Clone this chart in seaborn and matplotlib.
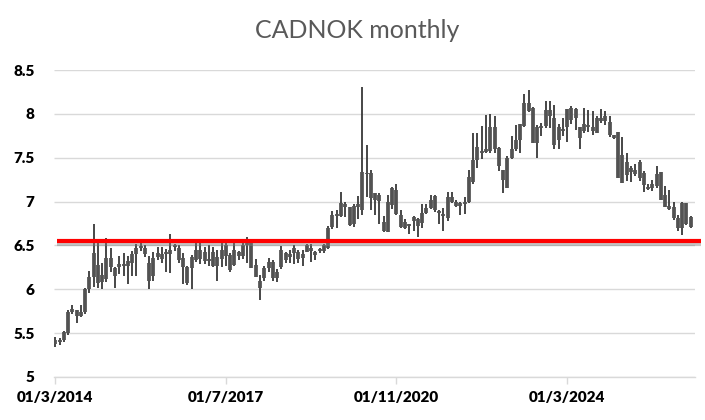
import numpy as np
import pandas as pd
import seaborn as sns
import matplotlib
matplotlib.use('Agg')
import matplotlib.pyplot as plt
import matplotlib.patheffects as pe

# monthly OHLC (index 0 = 01/3/2014)
open_ = [5.38, 5.40, 5.42, 5.50, 5.74, 5.76, 5.70, 5.74, 6.00, 6.14,
         6.28, 6.08, 6.12, 6.36, 6.24, 6.25, 6.29, 6.26, 6.30, 6.40,
         6.47, 6.47, 6.30, 6.15, 6.37, 6.40, 6.40, 6.40, 6.48, 6.47,
         6.36, 6.25, 6.24, 6.33, 6.45, 6.43, 6.34, 6.43, 6.27, 6.34,
         6.50, 6.39, 6.28, 6.42, 6.38, 6.51, 6.56, 6.28, 6.10, 6.13,
         6.24, 6.31, 6.13, 6.25, 6.41, 6.37, 6.41, 6.43, 6.36, 6.42,
         6.47, 6.43, 6.44, 6.44, 6.47, 6.71, 6.86, 6.84, 6.97, 6.94,
         6.75, 6.94, 6.90, 7.33, 7.33, 7.10, 7.08, 6.77, 6.65, 6.96,
         7.13, 6.85, 6.77, 6.74, 6.78, 6.80, 6.76, 6.87, 6.93, 7.06,
         6.87, 6.86, 6.81, 7.05, 7.00, 6.95, 6.97, 7.00, 7.22, 7.47,
         7.58, 7.57, 7.58, 7.85, 7.61, 7.36, 7.15, 7.50, 7.60, 7.70,
         7.86, 8.12, 8.07, 7.67, 7.84, 7.86, 8.04, 7.95, 7.70, 7.83,
         7.85, 8.07, 7.95, 7.85, 7.80, 7.85, 7.85, 7.95, 7.92, 7.92,
         7.91, 7.76, 7.79, 7.53, 7.30, 7.34, 7.36, 7.45, 7.33, 7.17,
         7.15, 7.18, 7.34, 7.08, 6.95, 6.94, 6.81, 6.70, 6.98, 6.82]
close = [5.42, 5.42, 5.51, 5.74, 5.77, 5.70, 5.74, 6.00, 6.14, 6.41,
         6.07, 6.16, 6.36, 6.25, 6.15, 6.29, 6.27, 6.32, 6.40, 6.47,
         6.49, 6.40, 6.10, 6.36, 6.41, 6.35, 6.42, 6.45, 6.50, 6.33,
         6.25, 6.07, 6.37, 6.45, 6.35, 6.32, 6.32, 6.26, 6.37, 6.45,
         6.38, 6.22, 6.45, 6.38, 6.50, 6.56, 6.24, 6.14, 6.02, 6.24,
         6.31, 6.13, 6.20, 6.45, 6.33, 6.40, 6.47, 6.34, 6.40, 6.50,
         6.44, 6.39, 6.46, 6.51, 6.70, 6.85, 6.84, 6.98, 6.94, 6.73,
         6.95, 6.97, 7.34, 7.31, 7.04, 7.02, 7.01, 6.66, 7.00, 7.15,
         6.86, 6.71, 6.70, 6.72, 6.82, 6.72, 6.87, 6.93, 7.02, 6.90,
         6.89, 6.84, 7.05, 7.00, 6.95, 6.98, 7.00, 7.28, 7.47, 7.62,
         7.55, 7.60, 7.85, 7.60, 7.40, 7.25, 7.50, 7.60, 7.70, 7.88,
         8.12, 8.03, 7.67, 7.85, 7.86, 8.04, 7.98, 7.65, 7.85, 7.80,
         8.05, 7.93, 8.06, 7.72, 7.88, 7.87, 7.80, 7.78, 7.95, 7.97,
         7.76, 7.73, 7.27, 7.21, 7.45, 7.38, 7.32, 7.27, 7.19, 7.14,
         7.20, 7.32, 7.02, 6.94, 6.92, 6.81, 6.70, 6.98, 6.74, 6.71]
high = [5.46, 5.45, 5.52, 5.76, 5.82, 5.76, 5.82, 6.02, 6.21, 6.74,
        6.57, 6.30, 6.58, 6.47, 6.25, 6.38, 6.41, 6.38, 6.44, 6.52,
        6.55, 6.50, 6.38, 6.42, 6.48, 6.48, 6.46, 6.63, 6.52, 6.51,
        6.41, 6.27, 6.39, 6.53, 6.53, 6.48, 6.51, 6.48, 6.45, 6.53,
        6.53, 6.41, 6.53, 6.44, 6.55, 6.60, 6.56, 6.35, 6.16, 6.27,
        6.36, 6.33, 6.23, 6.49, 6.43, 6.45, 6.50, 6.45, 6.45, 6.52,
        6.52, 6.44, 6.47, 6.52, 6.72, 6.89, 6.90, 7.11, 6.99, 6.94,
        6.97, 7.06, 8.31, 7.64, 7.36, 7.10, 7.10, 6.83, 7.08, 7.17,
        7.20, 6.90, 6.80, 6.75, 6.84, 6.81, 6.97, 6.97, 7.07, 7.07,
        6.90, 6.93, 7.11, 7.11, 7.02, 7.00, 7.05, 7.36, 7.78, 7.78,
        7.86, 7.99, 8.00, 7.98, 7.62, 7.36, 7.52, 7.75, 7.87, 7.88,
        8.23, 8.27, 8.08, 7.87, 7.90, 8.15, 8.15, 8.10, 7.88, 7.95,
        8.05, 8.09, 8.07, 7.85, 8.07, 8.04, 8.03, 7.97, 8.05, 8.03,
        7.97, 7.76, 7.79, 7.74, 7.55, 7.40, 7.43, 7.47, 7.35, 7.20,
        7.25, 7.40, 7.34, 7.18, 7.13, 7.00, 6.85, 7.00, 6.98, 6.83]
low = [5.34, 5.36, 5.40, 5.48, 5.72, 5.62, 5.68, 5.72, 5.96, 6.03,
       6.02, 6.00, 6.08, 6.20, 6.02, 6.17, 6.15, 6.06, 6.15, 6.15,
       6.44, 6.37, 6.00, 6.10, 6.33, 6.30, 6.20, 6.19, 6.44, 6.30,
       6.06, 6.05, 6.00, 6.31, 6.29, 6.29, 6.27, 6.25, 6.09, 6.25,
       6.27, 6.20, 6.26, 6.33, 6.35, 6.30, 6.24, 6.14, 5.88, 6.10,
       6.20, 6.09, 6.08, 6.23, 6.30, 6.30, 6.29, 6.30, 6.27, 6.42,
       6.31, 6.33, 6.41, 6.41, 6.46, 6.69, 6.70, 6.82, 6.82, 6.72,
       6.71, 6.80, 6.85, 7.05, 6.90, 6.85, 6.75, 6.65, 6.65, 6.92,
       6.85, 6.70, 6.69, 6.63, 6.66, 6.60, 6.70, 6.86, 6.91, 6.88,
       6.74, 6.66, 6.78, 6.98, 6.94, 6.85, 6.86, 6.98, 7.20, 7.38,
       7.48, 7.55, 7.55, 7.55, 7.35, 7.10, 7.15, 7.48, 7.58, 7.55,
       7.85, 8.02, 7.67, 7.50, 7.75, 7.84, 7.84, 7.60, 7.60, 7.75,
       7.68, 7.88, 7.82, 7.60, 7.78, 7.79, 7.76, 7.78, 7.90, 7.87,
       7.74, 7.71, 7.27, 7.21, 7.24, 7.22, 7.29, 7.24, 7.11, 7.13,
       7.12, 7.16, 7.02, 6.94, 6.90, 6.79, 6.67, 6.62, 6.73, 6.70]

tick_pos = [0, 40, 80, 120]
tick_labels = ['01/3/2014', '01/7/2017', '01/11/2020', '01/3/2024']
support_level = 6.545

sns.set_theme(style='white')
plt.rcParams['font.family'] = ['Lato', 'DejaVu Sans']
plt.rcParams['lines.solid_capstyle'] = 'butt'

n = len(close)
idx = np.arange(n)
wicks = pd.DataFrame({'x': np.repeat(idx, 2),
                      'y': np.ravel(np.column_stack([low, high])),
                      'id': np.repeat(idx, 2)})
bodies = pd.DataFrame({'x': np.repeat(idx, 2),
                       'y': np.ravel(np.column_stack([open_, close])),
                       'id': np.repeat(idx, 2)})

fig = plt.figure(figsize=(7.05, 4.2), dpi=100)
ax = fig.add_axes([54 / 705, 1 - 377 / 420, 641 / 705, 307 / 420])

ax.set_yticks([5, 5.5, 6, 6.5, 7, 7.5, 8, 8.5])
ax.set_yticklabels(['5', '5.5', '6', '6.5', '7', '7.5', '8', '8.5'])
ax.yaxis.grid(True, color='#d9d9d9', lw=1.0)
ax.set_axisbelow(True)

sns.lineplot(data=wicks, x='x', y='y', units='id', estimator=None, sort=False,
             color='#383838', lw=1.3, ax=ax)
sns.lineplot(data=bodies, x='x', y='y', units='id', estimator=None, sort=False,
             color='#525252', lw=2.7, ax=ax)

ax.plot([0.4, 151.3], [support_level, support_level], color='#ff0000', lw=3.0,
        clip_on=False, zorder=5, solid_capstyle='butt',
        path_effects=[pe.SimpleLineShadow(offset=(0, -2), shadow_color='#808080', alpha=0.45),
                      pe.Normal()])

ax.set_xlim(-0.3, 150)
ax.set_ylim(5, 8.5)
ax.set_xticks(tick_pos)
ax.set_xticklabels(tick_labels)
ax.set_xlabel('')
ax.set_ylabel('')

for s in ['top', 'right', 'left']:
    ax.spines[s].set_visible(False)
ax.spines['bottom'].set_color('#d9d9d9')
ax.spines['bottom'].set_linewidth(1.0)

ax.tick_params(axis='x', which='major', direction='out', length=5, width=1.0,
               color='#d9d9d9', pad=5, labelsize=11, labelcolor='black', bottom=True)
ax.tick_params(axis='y', length=0, pad=14, labelsize=11, labelcolor='black')
for lab in ax.get_xticklabels() + ax.get_yticklabels():
    lab.set_fontweight('heavy')

fig.text(357 / 705, 1 - 30 / 420, 'CADNOK monthly', ha='center', va='center',
         fontsize=18, color='#595959')

fig.savefig('out.png', dpi=100)
